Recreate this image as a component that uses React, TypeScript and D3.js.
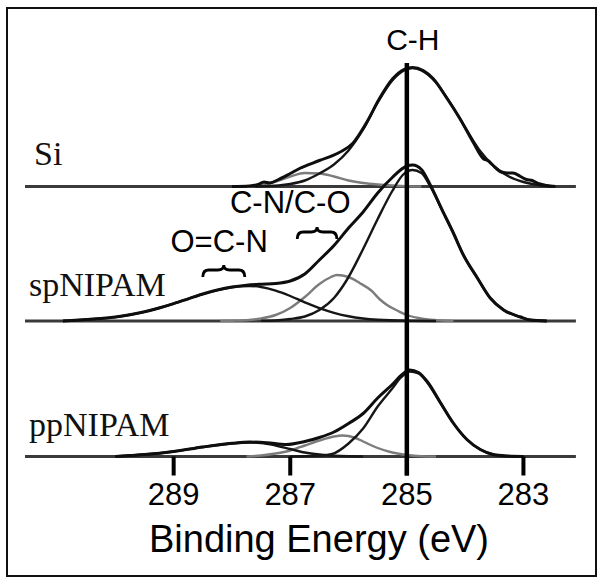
import React from "react";
import * as d3 from "d3";

type Pt = [number, number];

// Binding energy (eV), intensity (arb. units) – Si spectrum
const siEnvelope: Pt[] = [
  [288.0, 0], [287.7, 0.5], [287.55, 2], [287.45, 4.5], [287.35, 3.5], [287.2, 7], [287.0, 13],
  [286.84, 18], [286.5, 26], [286.16, 34], [285.93, 43], [285.69, 64], [285.47, 88], [285.24, 108],
  [285.05, 117], [284.9, 119], [284.72, 116], [284.55, 108], [284.31, 88], [284.09, 68], [283.86, 44],
  [283.69, 28], [283.6, 25.5], [283.52, 21], [283.4, 15], [283.28, 13.5], [283.18, 13.5], [283.05, 10],
  [282.95, 7], [282.85, 6], [282.75, 3], [282.6, 1], [282.45, 0],
];
const siMain: Pt[] = [
  [287.6, 0], [287.2, 1], [287.0, 2.5], [286.75, 6], [286.5, 13], [286.25, 22], [286.0, 36],
  [285.75, 57], [285.5, 84], [285.25, 106], [285.05, 116], [284.9, 118.5], [284.75, 116], [284.5, 104],
  [284.25, 83], [284.0, 59], [283.75, 36], [283.5, 20], [283.25, 10], [283.0, 4.5], [282.75, 1.5], [282.5, 0],
];
const siMinor: Pt[] = [
  [287.75, 0], [287.5, 1.5], [287.25, 5], [287.0, 10], [286.75, 13.5], [286.5, 13], [286.25, 10],
  [286.0, 6], [285.75, 3.5], [285.5, 2], [285.25, 1], [285.0, 0.3], [284.75, 0],
];

// spNIPAM spectrum
const spEnvelope: Pt[] = [
  [290.9, 0], [290.75, 0.5], [290.5, 1.4], [290.25, 2.4], [290.0, 3.9], [289.75, 6.2], [289.5, 9.2],
  [289.25, 13], [289.0, 17.4], [288.75, 22.2], [288.5, 27], [288.25, 31], [288.0, 34], [287.75, 35.8],
  [287.5, 36.8], [287.25, 37.5], [287.0, 40], [286.75, 47], [286.5, 61], [286.25, 75.5], [286.0, 93],
  [285.75, 109], [285.5, 128], [285.25, 143.5], [285.0, 155], [284.9, 156], [284.75, 151.5],
  [284.6, 136.3], [284.38, 109.4], [284.21, 89], [284.03, 66], [283.79, 43], [283.57, 23], [283.34, 11],
  [283.05, 4], [282.88, 1], [282.6, 0],
];
const spCH: Pt[] = [
  [287.5, 0.3], [287.2, 0.8], [287.0, 2], [286.75, 4.5], [286.5, 11], [286.25, 23], [286.03, 41],
  [285.75, 72], [285.5, 102], [285.25, 130], [285.07, 146], [284.9, 151], [284.75, 148], [284.6, 135],
  [284.38, 109], [284.21, 89], [284.03, 66], [283.79, 43], [283.57, 23], [283.34, 11], [283.05, 4],
  [282.88, 1], [282.6, 0],
];
const spCN: Pt[] = [
  [288.2, 0], [288.0, 0.3], [287.75, 0.8], [287.5, 2.5], [287.25, 6], [287.0, 13], [286.75, 24],
  [286.5, 37], [286.3, 44], [286.2, 46], [286.0, 44], [285.81, 38], [285.6, 30], [285.47, 22],
  [285.34, 16], [285.15, 10], [285.0, 6], [284.8, 3], [284.6, 1.3], [284.4, 0.5], [284.2, 0],
];
const spOCN: Pt[] = [
  [290.9, 0], [290.5, 1.4], [290.25, 2.4], [290.0, 3.9], [289.75, 6.2], [289.5, 9.2], [289.25, 13],
  [289.0, 17.4], [288.75, 22.2], [288.5, 26.9], [288.25, 30.9], [288.0, 33.7], [287.7, 35], [287.5, 34],
  [287.25, 30.4], [287.0, 25], [286.75, 18.7], [286.5, 12.9], [286.25, 8.2], [286.0, 4.7], [285.75, 2.5],
  [285.5, 1.2], [285.0, 0.2], [284.5, 0],
];

// ppNIPAM spectrum
const ppEnvelope: Pt[] = [
  [290.0, 0], [289.75, 1], [289.5, 2], [289.0, 5], [288.5, 9.5], [288.0, 13.2], [287.7, 14.5],
  [287.4, 13.8], [287.07, 12], [286.75, 15], [286.5, 19], [286.25, 24.5], [286.0, 33], [285.75, 43],
  [285.5, 58.5], [285.25, 72], [285.1, 81], [284.95, 86.5], [284.8, 84], [284.65, 75], [284.43, 54.5],
  [284.21, 34], [283.97, 17], [283.74, 7], [283.52, 2], [283.28, 0.5], [283.0, 0],
];
const ppCH: Pt[] = [
  [287.0, 0], [286.75, 0.3], [286.5, 0.8], [286.28, 2.5], [286.0, 13], [285.75, 28], [285.5, 50],
  [285.25, 68], [285.1, 79], [284.95, 85], [284.8, 83], [284.65, 74], [284.43, 54], [284.21, 34],
  [283.97, 17], [283.74, 7], [283.52, 2], [283.28, 0.5], [283.0, 0],
];
const ppCN: Pt[] = [
  [287.75, 0], [287.5, 1], [287.25, 3], [287.0, 6], [286.75, 11], [286.5, 16], [286.25, 20], [286.1, 21],
  [285.9, 19], [285.75, 15], [285.5, 8.5], [285.25, 4], [285.0, 1.5], [284.75, 0.3], [284.5, 0],
];
const ppOCN: Pt[] = [
  [290.0, 0], [289.75, 1], [289.5, 2], [289.0, 5], [288.5, 9.5], [288.0, 13], [287.7, 14], [287.5, 13.5],
  [287.25, 11], [287.0, 7.5], [286.75, 4], [286.5, 2], [286.25, 0.8], [286.0, 0.2], [285.75, 0],
];

const sampleNames = ["Si", "spNIPAM", "ppNIPAM"];
const sampleOffsets = [270, 135.5, 0];
const tickValues = [289, 287, 285, 283];
const energyDomain = [291.55, 282.1];
const peakLabel = "C-H";
const peakEnergy = 285;
const groupLabels = ["O=C-N", "C-N/C-O"];
const groupLabelEnergies = [288.22, 287.0];
const groupBraces: [number, number][] = [[288.5, 287.78], [286.88, 286.2]];
const axisTitle = "Binding Energy (eV)";

const W = 602;
const H = 582;
const SANS = "'Liberation Sans', Arial, Helvetica, sans-serif";
const SERIF = "'Liberation Serif', 'Times New Roman', serif";

export default function App() {
  const x = d3.scaleLinear().domain(energyDomain).range([25, 575.9]);
  const y = d3.scaleLinear().domain([0, 450]).range([456.5, 6.5]);

  const mk = (off: number) =>
    d3
      .line<Pt>()
      .x((d) => x(d[0]))
      .y((d) => y(d[1] + off))
      .curve(d3.curveMonotoneX);

  const GRAY = "#7c7c7c";
  const DARK = "#161616";

  const spectra = [
    { off: sampleOffsets[0], comps: [{ d: siMinor, c: GRAY }, { d: siMain, c: DARK }], env: siEnvelope },
    {
      off: sampleOffsets[1],
      comps: [{ d: spCN, c: GRAY }, { d: spOCN, c: DARK }, { d: spCH, c: DARK }],
      env: spEnvelope,
    },
    {
      off: sampleOffsets[2],
      comps: [{ d: ppCN, c: GRAY }, { d: ppOCN, c: DARK }, { d: ppCH, c: DARK }],
      env: ppEnvelope,
    },
  ];

  const labelY = [165, 296, 436];
  const labelX = [34, 29, 29];

  const brace = (e1: number, e2: number, tip: number) => {
    const L = x(e1);
    const R = x(e2);
    const C = (L + R) / 2;
    const M = tip + 5;
    const E = tip + 12;
    return `M${L},${E} Q${L},${M} ${L + 6},${M} L${C - 6},${M} Q${C},${M} ${C},${tip} Q${C},${M} ${C + 6},${M} L${R - 6},${M} Q${R},${M} ${R},${E}`;
  };

  const baseY = y(0);

  return (
    <svg width={W} height={H} style={{ position: "fixed", left: 0, top: 0, background: "#fff" }}>
      <rect x={0} y={0} width={W} height={H} fill="#fff" />
      <rect x={7} y={8} width={589} height={568} fill="none" stroke="#111" strokeWidth={2} />

      {spectra.map((s, i) => (
        <g key={i}>
          <line
            x1={x(energyDomain[0])}
            x2={x(energyDomain[1])}
            y1={y(s.off)}
            y2={y(s.off)}
            stroke="#3a3a3a"
            strokeWidth={2.8}
          />
          {s.comps.map((c, j) => (
            <path key={j} d={mk(s.off)(c.d) || ""} fill="none" stroke={c.c} strokeWidth={2.4} />
          ))}
          <path d={mk(s.off)(s.env) || ""} fill="none" stroke="#0e0e0e" strokeWidth={3} />
          <text x={labelX[i]} y={labelY[i]} fontFamily={SERIF} fontSize={34} fill="#111">
            {sampleNames[i]}
          </text>
        </g>
      ))}

      <line x1={x(peakEnergy)} x2={x(peakEnergy)} y1={63} y2={baseY + 19} stroke="#000" strokeWidth={4.5} />
      <text x={x(peakEnergy) + 6} y={50} textAnchor="middle" fontFamily={SANS} fontSize={30} fill="#000">
        {peakLabel}
      </text>

      {groupLabels.map((g, i) => (
        <text
          key={g}
          x={x(groupLabelEnergies[i])}
          y={i === 0 ? 252 : 213}
          textAnchor="middle"
          fontFamily={SANS}
          fontSize={31}
          fill="#000"
        >
          {g}
        </text>
      ))}
      <path d={brace(groupBraces[0][0], groupBraces[0][1], 265)} fill="none" stroke="#000" strokeWidth={2.8} />
      <path d={brace(groupBraces[1][0], groupBraces[1][1], 227)} fill="none" stroke="#000" strokeWidth={2.8} />

      {tickValues.map((t) => (
        <g key={t}>
          <line x1={x(t)} x2={x(t)} y1={baseY} y2={baseY + 19} stroke="#000" strokeWidth={4} />
          <text x={x(t)} y={505} textAnchor="middle" fontFamily={SANS} fontSize={31} fill="#000">
            {t}
          </text>
        </g>
      ))}
      <text x={319} y={552} textAnchor="middle" fontFamily={SANS} fontSize={38} fill="#000">
        {axisTitle}
      </text>
    </svg>
  );
}
